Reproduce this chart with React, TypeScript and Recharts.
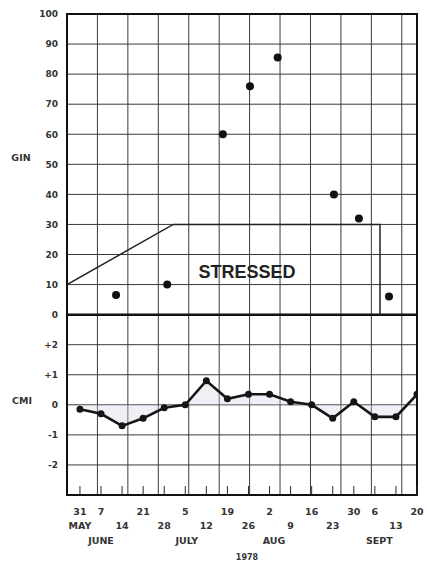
import React from 'react'
import {
  ComposedChart,
  Line,
  Area,
  XAxis,
  YAxis,
  CartesianGrid,
  ReferenceLine,
  ReferenceArea,
  ReferenceDot,
} from 'recharts'

// days counted from 31 May 1978
const weekDays = [0, 7, 14, 21, 28, 35, 42, 49, 56, 63, 70, 77, 84, 91, 98, 105, 112]
const weekLabels = ['31', '7', '14', '21', '28', '5', '12', '19', '26', '2', '9', '16', '23', '30', '6', '13', '20']
const weekRows = [1, 1, 2, 1, 2, 1, 2, 1, 2, 1, 2, 1, 2, 1, 1, 2, 1]

const monthDays = [7, 35.5, 64.5, 99.5]
const monthLabels = ['JUNE', 'JULY', 'AUG', 'SEPT']
const yearDays = [55.5]
const yearLabels = ['1978']

const cmiValues = [-0.15, -0.3, -0.7, -0.45, -0.1, 0, 0.8, 0.2, 0.35, 0.35, 0.1, 0, -0.45, 0.1, -0.4, -0.4, 0.35]

const ginDays = [12, 29, 47.5, 56.5, 65.7, 84.4, 92.7, 102.7]
const ginValues = [6.5, 10, 60, 76, 85.5, 40, 32, 6]

const stressDays = [-4.3, 31, 99.7, 99.7]
const stressValues = [10, 30, 30, 0]

const ginTicks = [-50, -40, -30, -20, -10, 0, 10, 20, 30, 40, 50, 60, 70, 80, 90, 100]

const cmiData = weekDays.map((day, i) => ({ day, cmi: cmiValues[i] }))
const ginData = ginDays.map((day, i) => ({ day, gin: ginValues[i] }))
const stressData = stressDays.map((day, i) => ({ day, gin: stressValues[i] }))

const xTicks = Array.from(new Set([...weekDays, ...monthDays, ...yearDays])).sort((a, b) => a - b)

const FONT = 'DejaVu Sans, sans-serif'
const INK = '#2a2a2a'

function cmiLabel(v: number) {
  if (v > 0) return '+' + v
  return String(v)
}

function YTick(props: any) {
  const { x, y, payload } = props
  const v = payload.value
  const label = v >= 0 ? String(v) : cmiLabel(3 + v / 10)
  return (
    <g fontFamily={FONT} fontWeight="bold" fill="#333">
      <text x={x - 9} y={y} dy={3.3} textAnchor="end" fontSize={9}>
        {label}
      </text>
      {v === 50 && (
        <text x={21} y={y - 7} dy={3.5} textAnchor="middle" fontSize={9.5}>
          GIN
        </text>
      )}
      {v === -30 && (
        <text x={22} y={y - 4} dy={3.5} textAnchor="middle" fontSize={9.5}>
          CMI
        </text>
      )}
    </g>
  )
}

function DateTick(props: any) {
  const { x, y, payload } = props
  const v = payload.value
  const w = weekDays.indexOf(v)
  const m = monthDays.indexOf(v)
  const yr = yearDays.indexOf(v)
  return (
    <g fontFamily={FONT} fontWeight="bold" fill="#333" fontSize={9.5}>
      {w >= 0 && (
        <>
          <line x1={x} x2={x} y1={y} y2={y - 9} stroke={INK} strokeWidth={1} />
          <text x={x} y={weekRows[w] === 1 ? y + 20 : y + 34} textAnchor="middle">
            {weekLabels[w]}
          </text>
          {w === 0 && (
            <text x={x} y={y + 34} textAnchor="middle">
              MAY
            </text>
          )}
        </>
      )}
      {m >= 0 && (
        <text x={x} y={y + 49} textAnchor="middle">
          {monthLabels[m]}
        </text>
      )}
      {yr >= 0 && (
        <text x={x} y={y + 65} textAnchor="middle" fontSize={8}>
          {yearLabels[yr]}
        </text>
      )}
    </g>
  )
}

export default function App() {
  return (
    <div style={{ position: 'absolute', left: 0, top: 0, width: 427, height: 561, background: '#fff' }}>
      <ComposedChart width={427} height={561} margin={{ top: 14, right: 10, bottom: 0, left: 0 }}>
        <CartesianGrid
          stroke="#3a3a3a"
          strokeWidth={1}
          verticalCoordinatesGenerator={({ offset }: any) => {
            const cell = offset.width / 11.5
            const pts: number[] = []
            for (let k = 1; k <= 11; k++) pts.push(offset.left + k * cell)
            return pts
          }}
        />
        <XAxis
          dataKey="day"
          type="number"
          domain={[-4.3, 112]}
          allowDataOverflow
          ticks={xTicks}
          interval={0}
          height={66}
          tickSize={0}
          tickMargin={0}
          tickLine={false}
          axisLine={false}
          tick={<DateTick />}
        />
        <YAxis
          type="number"
          domain={[-60, 100]}
          allowDataOverflow
          ticks={ginTicks}
          interval={0}
          width={67}
          tickSize={0}
          tickMargin={0}
          tickLine={false}
          axisLine={false}
          tick={<YTick />}
        />
        <YAxis yAxisId="cmi" type="number" domain={[-3, 13]} allowDataOverflow hide />

        <Area
          yAxisId="cmi"
          data={cmiData}
          dataKey="cmi"
          type="linear"
          baseValue={0}
          stroke="none"
          fill="#cfd4e2"
          fillOpacity={0.35}
          isAnimationActive={false}
        />
        <ReferenceLine y={0} stroke="#111" strokeWidth={2.5} />
        <ReferenceArea x1={-4.3} x2={112} y1={-60} y2={100} fill="none" stroke="#111" strokeWidth={2} />

        <Line
          data={stressData}
          dataKey="gin"
          type="linear"
          stroke="#222"
          strokeWidth={1.5}
          dot={false}
          isAnimationActive={false}
        />
        <ReferenceDot
          x={55.5}
          y={14.3}
          r={0}
          stroke="none"
          label={{
            value: 'STRESSED',
            position: 'center',
            fill: '#222',
            fontSize: 18,
            fontWeight: 'bold',
            fontFamily: 'Liberation Sans, Arial, sans-serif',
          }}
        />

        <Line
          data={ginData}
          dataKey="gin"
          type="linear"
          stroke="none"
          dot={{ r: 4, fill: '#111', stroke: 'none' }}
          isAnimationActive={false}
        />
        <Line
          yAxisId="cmi"
          data={cmiData}
          dataKey="cmi"
          type="linear"
          stroke="#151515"
          strokeWidth={2.6}
          dot={{ r: 3.5, fill: '#151515', stroke: 'none' }}
          isAnimationActive={false}
        />
      </ComposedChart>
    </div>
  )
}
